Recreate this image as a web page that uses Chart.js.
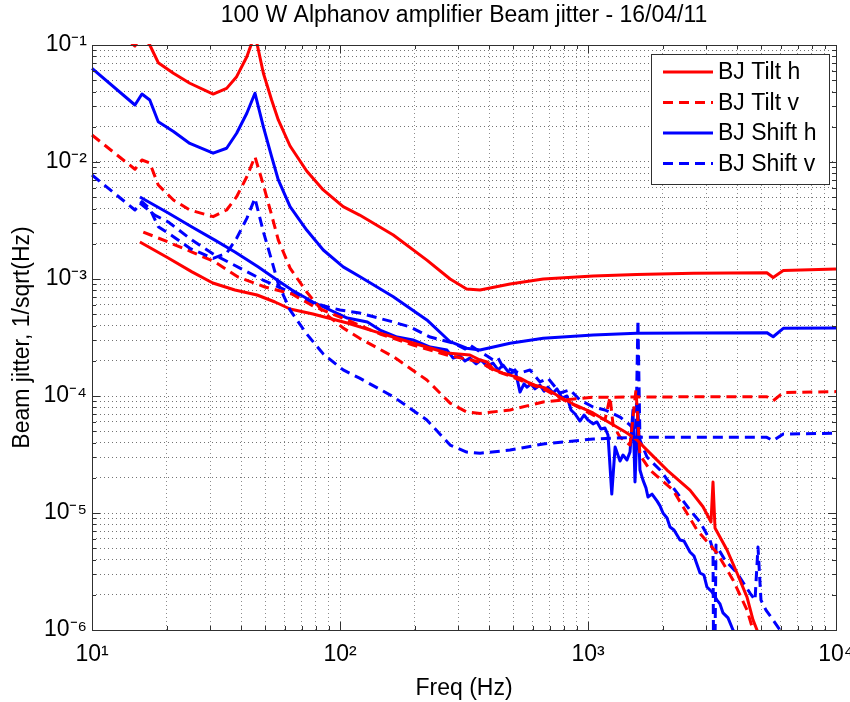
<!DOCTYPE html>
<html>
<head>
<meta charset="utf-8">
<title>Beam jitter</title>
<script src="https://cdn.jsdelivr.net/npm/chart.js@4/dist/chart.umd.min.js"></script>
<style>
  html, body { margin: 0; padding: 0; background: #fff; }
  #wrap { width: 850px; height: 702px; }
</style>
</head>
<body>
<div id="wrap"><canvas id="jitterChart" width="850" height="702"></canvas></div>
<script>
// Beam jitter spectra, 100 W Alphanov amplifier

const chartTitle = '100 W Alphanov amplifier Beam jitter - 16/04/11';
const xTitle = 'Freq (Hz)';
const yTitle = 'Beam jitter, 1/sqrt(Hz)';

// Axis ticks
const xMajorTicks = [10, 100, 1000, 10000];
const xTickLabels = ['10¹', '10²', '10³', '10⁴'];
const yMajorTicks = [1e-6, 1e-5, 1e-4, 1e-3, 1e-2, 1e-1];
const yTickLabels = ['10⁻⁶', '10⁻⁵', '10⁻⁴', '10⁻³', '10⁻²', '10⁻¹'];

const seriesNames = ['BJ Tilt h', 'BJ Tilt v', 'BJ Shift h', 'BJ Shift v'];

// Smooth curves from 10 Hz (resonance near 45 Hz)
const freqA = [10, 14.9, 15.9, 17.1, 18.5, 21.3, 24.8, 30.8, 34.9, 38.3, 42.1, 45.4, 49.1, 53.0, 56.4, 62.9,
  73.4, 85.6, 103, 120, 164, 224, 278, 324, 367, 485, 660, 1050, 1570, 2660, 5260, 5580, 6130, 10000];
const tiltHA = [0.202, 0.098, 0.122, 0.1, 0.0706, 0.0573, 0.0471, 0.0381, 0.0426, 0.0536, 0.0794, 0.124, 0.0573,
  0.0339, 0.0229, 0.0137, 0.00838, 0.00577, 0.00415, 0.00352, 0.00238, 0.00145, 0.001, 8.21e-4, 8.05e-4, 9.06e-4,
  0.001, 0.00106, 0.00109, 0.00112, 0.00113, 0.00103, 0.00118, 0.00122];
const tiltVA = [0.0170, 0.00867, 0.0104, 0.0098, 0.00636, 0.00473, 0.00389, 0.00341, 0.00389, 0.00505, 0.00748,
  0.0111, 0.00636, 0.00352, 0.00215, 0.00124, 7.74e-4, 5.22e-4, 3.81e-4, 3.11e-4, 2.17e-4, 1.37e-4, 8.7e-5,
  7.3e-5, 7.1e-5, 7.6e-5, 8.9e-5, 9.75e-5, 9.8e-5, 9.84e-5, 9.86e-5, 9.1e-5, 1.07e-4, 1.09e-4];
const shiftHA = [0.0632, 0.0307, 0.0381, 0.0339, 0.0221, 0.0182, 0.0144, 0.0119, 0.0131, 0.0176, 0.0261, 0.0387,
  0.0200, 0.0111, 0.00702, 0.00415, 0.00262, 0.00177, 0.00127, 0.00105, 7.06e-4, 4.47e-4, 2.91e-4, 2.56e-4,
  2.47e-4, 2.82e-4, 3.11e-4, 3.32e-4, 3.43e-4, 3.45e-4, 3.48e-4, 3.21e-4, 3.79e-4, 3.81e-4];
const shiftVA = [0.00774, 0.00389, 0.00458, 0.0040, 0.0028, 0.0023, 0.00183, 0.0015, 0.00166, 0.00223, 0.0033,
  0.0049, 0.00253, 0.00145, 9.06e-4, 5.43e-4, 3.39e-4, 2.29e-4, 1.67e-4, 1.42e-4, 9.86e-5, 6.24e-5, 3.81e-5,
  3.32e-5, 3.24e-5, 3.45e-5, 3.89e-5, 4.29e-5, 4.43e-5, 4.43e-5, 4.43e-5, 4.15e-5, 4.73e-5, 4.8e-5];

// Measured curves from ~16 Hz (roll off above 1.5 kHz)
const freqTiltHB = [15.6, 20.3, 25.3, 30.7, 37.7, 46.3, 54.7, 62.9, 77.8, 107, 145, 197, 270, 334, 367, 392, 414,
  454, 485, 532, 568, 611, 671, 771, 887, 1048, 1227, 1436, 1576, 1729, 2083, 2578, 2909, 3133, 3192, 3252, 3636,
  3989, 4377, 4627, 4802, 4937];
const tiltHB = [2.07e-3, 1.51e-3, 1.15e-3, 9.24e-4, 8.05e-4, 7.30e-4, 6.36e-4, 5.54e-4, 5.02e-4, 4.21e-4, 3.45e-4,
  2.84e-4, 2.33e-4, 2.24e-4, 2.03e-4, 1.95e-4, 1.70e-4, 1.57e-4, 1.51e-4, 1.42e-4, 1.32e-4, 1.24e-4, 1.17e-4,
  9.8e-5, 8.38e-5, 7.16e-5, 5.88e-5, 4.83e-5, 4.21e-5, 3.45e-5, 2.33e-5, 1.57e-5, 1.13e-5, 8.38e-6, 1.84e-5,
  7.44e-6, 4.83e-6, 3.07e-6, 1.91e-6, 1.22e-6, 1.0e-6, 7.44e-7];

const freqTiltVB = [16.1, 20.3, 25.3, 31.3, 38.8, 49.8, 64.0, 77.8, 107, 145, 197, 270, 367, 414, 485, 568, 671,
  771, 928, 1048, 1171, 1227, 1262, 1346, 1477, 1561, 1620, 1778, 2202, 2751, 3313, 3843, 4377, 4627, 4847];
const tiltVB = [2.52e-3, 2.07e-3, 1.70e-3, 1.40e-3, 1.04e-3, 8.54e-4, 7.44e-4, 5.88e-4, 4.46e-4, 3.39e-4, 2.73e-4,
  2.24e-4, 1.95e-4, 1.67e-4, 1.48e-4, 1.29e-4, 1.13e-4, 9.61e-5, 7.9e-5, 6.88e-5, 6.24e-5, 9.8e-5, 5.65e-5,
  4.46e-5, 3.81e-5, 1.13e-4, 3.13e-5, 2.33e-5, 1.57e-5, 7.16e-6, 4.55e-6, 2.68e-6, 1.48e-6, 1.0e-6, 7.44e-7];

const freqShiftHB = [15.6, 20.3, 25.3, 31.3, 37.7, 46.7, 57.3, 64.0, 77.8, 107, 129, 145, 170, 197, 231,
  270, 286, 305, 319, 334, 354, 370, 392, 414, 434, 454, 485, 508, 532, 552, 568, 589, 611, 640, 665, 690, 723,
  750, 786, 823, 854, 887, 928, 964, 1000, 1048, 1087, 1128, 1171, 1204, 1247, 1286, 1346, 1384, 1436, 1477,
  1518, 1547, 1590, 1620, 1666, 1713, 1745, 1812, 1897, 1952, 2006, 2083, 2141, 2222, 2349, 2438, 2578, 2676,
  2829, 2935, 3018, 3162, 3313, 3406, 3503, 3669, 3843, 4026];
const shiftHB = [5.02e-3, 3.67e-3, 2.78e-3, 2.15e-3, 1.70e-3, 1.27e-3, 9.43e-4, 8.05e-4, 6.36e-4, 4.64e-4, 4.29e-4,
  3.66e-4, 3.19e-4, 3.01e-4, 2.62e-4,
  2.47e-4, 2.11e-4, 2.20e-4, 1.99e-4, 2.11e-4, 1.88e-4, 2.03e-4, 1.80e-4, 1.91e-4, 1.67e-4, 1.84e-4, 1.54e-4,
  1.67e-4, 1.08e-4, 1.27e-4, 1.19e-4, 1.27e-4, 1.15e-4, 1.24e-4, 1.10e-4, 1.19e-4, 1.06e-4, 1.15e-4, 9.61e-5,
  1.0e-4, 7.59e-5, 7.02e-5, 6.11e-5, 6.88e-5, 6.24e-5, 5.77e-5, 6.0e-5, 5.22e-5, 5.33e-5, 4.64e-5, 1.45e-5,
  3.66e-5, 2.78e-5, 3.13e-5, 2.84e-5, 3.32e-5, 7.59e-5, 1.84e-5, 8.05e-5, 2.33e-5, 1.91e-5, 1.64e-5, 1.37e-5,
  1.45e-5, 1.27e-5, 1.15e-5, 1.0e-5, 9.06e-6, 7.59e-6, 7.16e-6, 5.88e-6, 5.77e-6, 4.64e-6, 4.29e-6, 3.07e-6,
  2.95e-6, 2.33e-6, 2.11e-6, 1.80e-6, 1.67e-6, 1.40e-6, 1.27e-6, 1.0e-6, 8.2e-7];

const freqShiftVB = [15.6, 17.9, 20.3, 25.3, 31.3, 39.5, 48.9, 64.0, 77.8, 100, 120, 164, 192, 231, 286, 319, 334,
  367, 392, 414, 434, 454, 532, 584, 640, 690, 771, 846, 928, 1048, 1171, 1346, 1477, 1561, 1590, 1620, 1729,
  1952, 2243, 2578, 2829, 3104, 3192, 3222, 3282, 3569, 3989, 4500, 4714, 4847, 4983, 5220, 5572, 5944, 6227];
const shiftVB = [4.46e-3, 3.52e-3, 3.07e-3, 2.15e-3, 1.60e-3, 1.24e-3, 9.8e-4, 7.59e-4, 6.24e-4, 5.43e-4, 5.12e-4,
  4.29e-4, 3.89e-4, 3.19e-4, 2.84e-4, 2.52e-4, 2.73e-4, 2.38e-4, 2.20e-4, 2.03e-4, 2.11e-4, 1.77e-4, 1.57e-4,
  1.67e-4, 1.32e-4, 1.42e-4, 1.06e-4, 1.13e-4, 9.24e-5, 8.05e-5, 7.59e-5, 6.61e-5, 5.65e-5, 4.92e-5, 4.46e-4,
  4.21e-5, 3.01e-5, 2.33e-5, 1.57e-5, 1.06e-5, 8.38e-6, 5.88e-6, 4.83e-6, 1.0e-7, 5.33e-6, 3.96e-6, 3.07e-6,
  2.07e-6, 1.80e-6, 5.12e-6, 1.80e-6, 1.48e-6, 1.22e-6, 1.0e-6, 8.2e-7];

const RED = '#ff0000';
const BLUE = '#0000ff';
const DASH = [10, 6];
const FONT = '"Liberation Sans", Arial, Helvetica, sans-serif';

function toPoints(xs, ys) {
  return xs.map((x, i) => ({ x: x, y: ys[i] }));
}

function makeLine(label, xs, ys, color, dashed, inLegend) {
  return {
    label: label,
    data: toPoints(xs, ys),
    borderColor: color,
    backgroundColor: color,
    borderWidth: 3,
    borderDash: dashed ? DASH : [],
    borderJoinStyle: 'round',
    pointRadius: 0,
    tension: 0,
    fill: false,
    clip: 1,
    inLegend: inLegend
  };
}

// grid values: 1..9 per decade
function decadeGrid(majors) {
  const out = [];
  for (let i = 0; i < majors.length - 1; i++) {
    for (let k = 1; k <= 9; k++) out.push(majors[i] * k);
  }
  out.push(majors[majors.length - 1]);
  return out;
}
const xGridValues = decadeGrid(xMajorTicks);
const yGridValues = decadeGrid(yMajorTicks);

function majorLabel(value, majors, labels) {
  const i = majors.findIndex(m => Math.abs(m - value) / m < 1e-9);
  return i >= 0 ? labels[i] : '';
}

// Title centered over the plot area
const titlePlugin = {
  id: 'centeredTitle',
  afterDraw(chart) {
    const { ctx, chartArea } = chart;
    ctx.save();
    ctx.font = '23px ' + FONT;
    ctx.fillStyle = '#000';
    ctx.textAlign = 'center';
    ctx.textBaseline = 'middle';
    ctx.fillText(chartTitle, (chartArea.left + chartArea.right) / 2, 16);
    ctx.restore();
  }
};

// Axes box with inner tick marks
const boxPlugin = {
  id: 'axesBox',
  afterDatasetsDraw(chart) {
    const { ctx, chartArea: a, scales } = chart;
    ctx.save();
    ctx.strokeStyle = '#303030';
    ctx.lineWidth = 1;
    ctx.beginPath();
    scales.x.ticks.forEach(t => {
      const px = Math.round(scales.x.getPixelForValue(t.value)) + 0.5;
      const len = majorLabel(t.value, xMajorTicks, xTickLabels) ? 8 : 4;
      ctx.moveTo(px, a.bottom); ctx.lineTo(px, a.bottom - len);
      ctx.moveTo(px, a.top); ctx.lineTo(px, a.top + len);
    });
    scales.y.ticks.forEach(t => {
      const py = Math.round(scales.y.getPixelForValue(t.value)) + 0.5;
      const len = majorLabel(t.value, yMajorTicks, yTickLabels) ? 8 : 4;
      ctx.moveTo(a.left, py); ctx.lineTo(a.left + len, py);
      ctx.moveTo(a.right, py); ctx.lineTo(a.right - len, py);
    });
    ctx.stroke();
    ctx.strokeRect(Math.round(a.left) + 0.5, Math.round(a.top) + 0.5,
      Math.round(a.right - a.left), Math.round(a.bottom - a.top));
    ctx.restore();
  }
};

// Legend in the upper right corner of the plot
const legendPlugin = {
  id: 'insideLegend',
  afterDraw(chart) {
    const { ctx, chartArea: a } = chart;
    const items = chart.data.datasets.filter(d => d.inLegend);
    const w = 178, h = 130;
    const left = a.right - 7 - w, top = a.top + 9;
    ctx.save();
    ctx.fillStyle = '#fff';
    ctx.fillRect(left, top, w, h);
    ctx.strokeStyle = '#303030';
    ctx.lineWidth = 1;
    ctx.strokeRect(Math.round(left) + 0.5, Math.round(top) + 0.5, w, h);
    ctx.font = '23px ' + FONT;
    ctx.textBaseline = 'middle';
    ctx.textAlign = 'left';
    items.forEach((d, i) => {
      const y = top + 18 + i * 30.5;
      ctx.strokeStyle = d.borderColor;
      ctx.lineWidth = 3;
      ctx.setLineDash(d.borderDash);
      ctx.beginPath();
      ctx.moveTo(left + 12, y);
      ctx.lineTo(left + 62, y);
      ctx.stroke();
      ctx.setLineDash([]);
      ctx.fillStyle = '#000';
      ctx.fillText(d.label, left + 67, y + 1);
    });
    ctx.restore();
  }
};

function initChart() {
  const ctx = document.getElementById('jitterChart').getContext('2d');

  const datasets = [
    makeLine(seriesNames[0], freqA, tiltHA, RED, false, true),
    makeLine(seriesNames[1], freqA, tiltVA, RED, true, true),
    makeLine(seriesNames[2], freqA, shiftHA, BLUE, false, true),
    makeLine(seriesNames[3], freqA, shiftVA, BLUE, true, true),
    makeLine(seriesNames[0], freqTiltHB, tiltHB, RED, false, false),
    makeLine(seriesNames[1], freqTiltVB, tiltVB, RED, true, false),
    makeLine(seriesNames[2], freqShiftHB, shiftHB, BLUE, false, false),
    makeLine(seriesNames[3], freqShiftVB, shiftVB, BLUE, true, false)
  ];

  new Chart(ctx, {
    type: 'line',
    data: { datasets: datasets },
    options: {
      responsive: false,
      animation: false,
      devicePixelRatio: 1,
      layout: { padding: { top: 45, right: 14, left: 0, bottom: 0 } },
      plugins: {
        legend: { display: false },
        tooltip: { enabled: false },
        title: { display: false }
      },
      scales: {
        x: {
          type: 'logarithmic',
          min: 10,
          max: 10000,
          afterBuildTicks: (scale) => { scale.ticks = xGridValues.map(v => ({ value: v })); },
          afterFit: (scale) => {
            scale.height = 72;
            scale.paddingLeft = 0;
            scale.paddingRight = 0;
          },
          grid: { color: 'rgba(0,0,0,0.45)', lineWidth: 1, drawTicks: false },
          border: { display: false, dash: [1, 3] },
          ticks: {
            autoSkip: false,
            maxRotation: 0,
            padding: 11,
            color: '#000',
            font: { family: FONT, size: 23 },
            callback: (value) => majorLabel(value, xMajorTicks, xTickLabels)
          },
          title: {
            display: true,
            text: xTitle,
            color: '#000',
            font: { family: FONT, size: 23 },
            padding: { top: 0, bottom: 0 }
          }
        },
        y: {
          type: 'logarithmic',
          min: 1e-6,
          max: 1e-1,
          afterBuildTicks: (scale) => { scale.ticks = yGridValues.map(v => ({ value: v })); },
          afterFit: (scale) => {
            scale.width = 92;
            scale.paddingTop = 0;
            scale.paddingBottom = 0;
          },
          grid: { color: 'rgba(0,0,0,0.55)', lineWidth: 1, drawTicks: false },
          border: { display: false, dash: [1, 3] },
          ticks: {
            autoSkip: false,
            padding: 5,
            color: '#000',
            font: { family: FONT, size: 23 },
            callback: (value) => majorLabel(value, yMajorTicks, yTickLabels)
          },
          title: {
            display: true,
            text: yTitle,
            color: '#000',
            font: { family: FONT, size: 23 },
            padding: { top: 9, bottom: 0 }
          }
        }
      }
    },
    plugins: [boxPlugin, titlePlugin, legendPlugin]
  });
}

document.addEventListener('DOMContentLoaded', initChart);
</script>
</body>
</html>
